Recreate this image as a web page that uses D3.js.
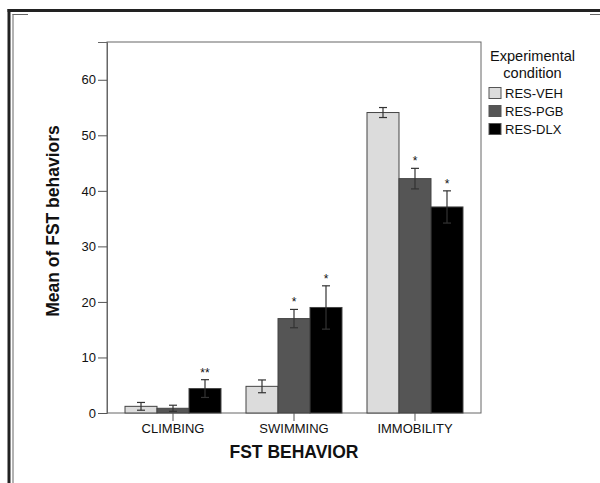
<!DOCTYPE html>
<html>
<head>
<meta charset="utf-8">
<script src="https://cdn.jsdelivr.net/npm/d3@7"></script>
<style>
  html, body { margin: 0; padding: 0; background: #fff; }
  svg { display: block; font-family: Arial, "Liberation Sans", sans-serif; }
</style>
</head>
<body>
<svg id="chart" width="600" height="483"></svg>
<script>
// ---- data ----
const categories = ["CLIMBING", "SWIMMING", "IMMOBILITY"];
const seriesNames = ["RES-VEH", "RES-PGB", "RES-DLX"];
const vehMeans = [1.2, 4.8, 54.1];
const vehErr   = [0.7, 1.15, 0.9];
const pgbMeans = [0.85, 17.0, 42.2];
const pgbErr   = [0.55, 1.65, 1.85];
const dlxMeans = [4.4, 19.0, 37.1];
const dlxErr   = [1.6, 3.9, 2.9];
const vehSig = ["", "", ""];
const pgbSig = ["", "*", "*"];
const dlxSig = ["**", "*", "*"];
const yTicks = [0, 10, 20, 30, 40, 50, 60];
const colors = ["#dcdcdc", "#555555", "#000000"];

const seriesMeans = [vehMeans, pgbMeans, dlxMeans];
const seriesErr = [vehErr, pgbErr, dlxErr];
const seriesSig = [vehSig, pgbSig, dlxSig];

const rows = [];
categories.forEach((c, ci) => {
  seriesNames.forEach((s, si) => {
    rows.push({cat: c, ser: s, si: si, mean: seriesMeans[si][ci], err: seriesErr[si][ci], sig: seriesSig[si][ci]});
  });
});

const svg = d3.select("#chart");

// ---- outer frame ----
const frame = svg.append("g");
frame.append("line").attr("x1", 7.5).attr("x2", 600).attr("y1", 10.5).attr("y2", 10.5)
  .attr("stroke", "#222").attr("stroke-width", 3);
frame.append("line").attr("x1", 9).attr("x2", 9).attr("y1", 9).attr("y2", 483)
  .attr("stroke", "#222").attr("stroke-width", 3);
frame.append("line").attr("x1", 13).attr("x2", 13).attr("y1", 14).attr("y2", 483)
  .attr("stroke", "#666").attr("stroke-width", 1);
frame.append("line").attr("x1", 12.5).attr("x2", 28).attr("y1", 14.5).attr("y2", 14.5)
  .attr("stroke", "#666").attr("stroke-width", 1);
frame.append("line").attr("x1", 590).attr("x2", 600).attr("y1", 14.5).attr("y2", 14.5)
  .attr("stroke", "#666").attr("stroke-width", 1);

// ---- scales ----
const pLeft = 107, pRight = 481, pTop = 42, pBottom = 413;
const x = d3.scaleBand().domain(categories).range([pLeft, pRight])
  .paddingInner(0.2066).paddingOuter(0.1488);
const xs = d3.scaleBand().domain(seriesNames).range([0, x.bandwidth()]).padding(0);
const y = d3.scaleLinear().domain([0, 66.8]).range([pBottom, pTop]);

// ---- plot box ----
svg.append("rect").attr("x", pLeft).attr("y", pTop).attr("width", pRight - pLeft).attr("height", pBottom - pTop)
  .attr("fill", "none").attr("stroke", "#666").attr("stroke-width", 1);

// ---- bars ----
const g = svg.append("g");
g.selectAll("rect.bar").data(rows).join("rect").attr("class", "bar")
  .attr("x", d => x(d.cat) + xs(d.ser))
  .attr("y", d => y(d.mean))
  .attr("width", xs.bandwidth())
  .attr("height", d => y(0) - y(d.mean))
  .attr("fill", d => colors[d.si])
  .attr("stroke", "#444").attr("stroke-width", 1);

// ---- error bars ----
const cap = 4;
const cx = d => x(d.cat) + xs(d.ser) + xs.bandwidth() / 2;
const eb = g.selectAll("g.eb").data(rows).join("g").attr("class", "eb")
  .attr("stroke", "#333").attr("stroke-width", 1.2);
eb.append("line")
  .attr("x1", cx).attr("x2", cx)
  .attr("y1", d => y(d.mean - d.err)).attr("y2", d => y(d.mean + d.err));
eb.append("line")
  .attr("x1", d => cx(d) - cap).attr("x2", d => cx(d) + cap)
  .attr("y1", d => y(d.mean + d.err)).attr("y2", d => y(d.mean + d.err));
eb.append("line")
  .attr("x1", d => cx(d) - cap).attr("x2", d => cx(d) + cap)
  .attr("y1", d => y(d.mean - d.err)).attr("y2", d => y(d.mean - d.err));

// ---- significance stars ----
g.selectAll("text.sig").data(rows.filter(d => d.sig)).join("text").attr("class", "sig")
  .attr("x", cx)
  .attr("y", d => y(d.mean + d.err) - 3)
  .attr("text-anchor", "middle").attr("font-size", 12).attr("fill", "#111")
  .text(d => d.sig);

// ---- y axis ----
const yAxis = d3.axisLeft(y).tickValues(yTicks).tickSize(9).tickPadding(2).tickFormat(d3.format("d"));
const ya = svg.append("g").attr("transform", `translate(${pLeft},0)`).call(yAxis);
ya.select(".domain").attr("stroke", "#666");
ya.selectAll(".tick line").attr("stroke", "#555");
ya.selectAll(".tick text").attr("font-size", 13).attr("fill", "#111").attr("font-family", "Arial, 'Liberation Sans', sans-serif");

// ---- x axis ----
const xAxis = d3.axisBottom(x).tickSize(8).tickPadding(3);
const xa = svg.append("g").attr("transform", `translate(0,${pBottom})`).call(xAxis);
xa.select(".domain").remove();
xa.selectAll(".tick line").attr("stroke", "#555");
xa.selectAll(".tick text").attr("font-size", 13).attr("fill", "#111").attr("font-family", "Arial, 'Liberation Sans', sans-serif");

// ---- axis titles ----
svg.append("text").attr("x", 294).attr("y", 458).attr("text-anchor", "middle")
  .attr("font-size", 17.5).attr("font-weight", "bold").attr("fill", "#111").text("FST BEHAVIOR");
svg.append("text").attr("transform", "translate(59,221) rotate(-90)").attr("text-anchor", "middle")
  .attr("font-size", 17.5).attr("font-weight", "bold").attr("fill", "#111").text("Mean of FST behaviors");

// ---- legend ----
const lg = svg.append("g");
lg.append("text").attr("x", 532.5).attr("y", 61).attr("text-anchor", "middle")
  .attr("font-size", 14.6).attr("fill", "#111").text("Experimental");
lg.append("text").attr("x", 532.5).attr("y", 77.5).attr("text-anchor", "middle")
  .attr("font-size", 14.6).attr("fill", "#111").text("condition");
const items = lg.selectAll("g.item").data(seriesNames).join("g").attr("class", "item")
  .attr("transform", (d, i) => `translate(489,${87.5 + i * 18})`);
items.append("rect").attr("width", 12).attr("height", 11)
  .attr("fill", (d, i) => colors[i]).attr("stroke", "#555").attr("stroke-width", 1);
items.append("text").attr("x", 16).attr("y", 10.5).attr("font-size", 13).attr("fill", "#111").text(d => d);
</script>
</body>
</html>
